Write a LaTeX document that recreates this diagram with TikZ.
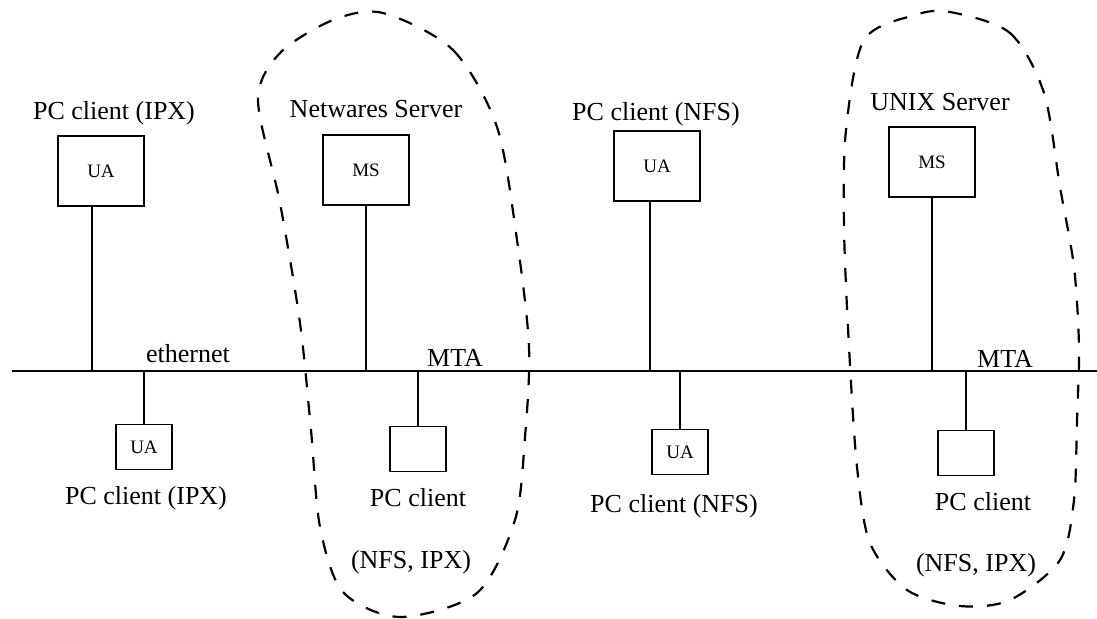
\documentclass[tikz,border=0pt]{standalone}
\usepackage{fontspec}
\setmainfont{Liberation Serif}
\usetikzlibrary{calc,positioning}

\begin{document}
\begin{tikzpicture}[x=0.5pt,y=-0.5pt,
  every node/.style={draw,align=center,line width=0.8pt,font=\fontsize{9.5}{11}\selectfont},
  bigbox/.style={minimum width=43pt,minimum height=35pt,inner sep=0pt},
  smallbox/.style={minimum width=28pt,minimum height=22.5pt,inner sep=0pt},
  txt/.style={draw=none,inner sep=0pt,anchor=base,font=\fontsize{13}{15}\selectfont},
  link/.style={line width=0.8pt},
  grouping/.style={line width=1.1pt,dash pattern=on 7pt off 7pt}]
\useasboundingbox (0,0) rectangle (1097,619);

% ethernet
\coordinate (BusWest) at (12,371);
\coordinate (BusEast) at (1097,371);
\draw [line width=1.3pt] (BusWest) -- (BusEast);
\node [txt] (BusName) at (188,363) {ethernet};
\node [txt] (NetwaresMta) at (455,367) {MTA};
\node [txt] (UnixMta) at (1005,368) {MTA};

% stations above the bus
\node [bigbox] (IpxUa) at (101,171) {UA};
\node [txt] (IpxUaName) at (114,120) {PC client (IPX)};
\coordinate (IpxUaTap) at ($(IpxUa.south)+(-9,0)$);
\draw [link] (IpxUaTap) -- (IpxUaTap |- BusWest);

\node [bigbox] (NetwaresMs) at (366,170) {MS};
\node [txt] (NetwaresMsName) at (376,118) {Netwares Server};
\draw [link] (NetwaresMs.south) -- (NetwaresMs.south |- BusWest);

\node [bigbox] (NfsUa) at (657,166) {UA};
\node [txt] (NfsUaName) at (656,121) {PC client (NFS)};
\coordinate (NfsUaTap) at ($(NfsUa.south)+(-7,0)$);
\draw [link] (NfsUaTap) -- (NfsUaTap |- BusWest);

\node [bigbox] (UnixMs) at (932,162) {MS};
\node [txt] (UnixMsName) at (940,111) {UNIX Server};
\draw [link] (UnixMs.south) -- (UnixMs.south |- BusWest);

% stations below the bus
\node [smallbox] (IpxUaLow) at (144,447) {UA};
\node [txt] (IpxUaLowName) at (146,505) {PC client (IPX)};
\draw [link] (BusWest -| IpxUaLow.north) -- (IpxUaLow.north);

\node [smallbox] (NetwaresPc) at (418,449) {};
\node [txt] (NetwaresPcName) at (418,507) {PC client};
\node [txt] (NetwaresPcProto) at (411,568) {(NFS, IPX)};
\draw [link] (BusWest -| NetwaresPc.north) -- (NetwaresPc.north);

\node [smallbox] (NfsUaLow) at (680,452) {UA};
\node [txt] (NfsUaLowName) at (674,513) {PC client (NFS)};
\draw [link] (BusWest -| NfsUaLow.north) -- (NfsUaLow.north);

\node [smallbox] (UnixPc) at (966,453) {};
\node [txt] (UnixPcName) at (983,511) {PC client};
\node [txt] (UnixPcProto) at (976,572) {(NFS, IPX)};
\draw [link] (BusWest -| UnixPc.north) -- (UnixPc.north);

% server domains
\draw [grouping] plot [smooth cycle] coordinates {(383,13) (453,50) (497,127) (517,240) (529,347) (525,437) (515,520) (477,593) (400,617) (343,592) (320,527) (311,430) (300,323) (280,203) (258,100) (280,53) (333,20)};
\draw [grouping] plot [smooth cycle] coordinates {(950,12) (1010,33) (1044,93) (1060,187) (1074,267) (1079,347) (1077,420) (1074,500) (1060,560) (1010,600) (960,606) (907,590) (870,543) (857,467) (849,347) (844,227) (846,130) (864,40) (915,15)};
\end{tikzpicture}
\end{document}
